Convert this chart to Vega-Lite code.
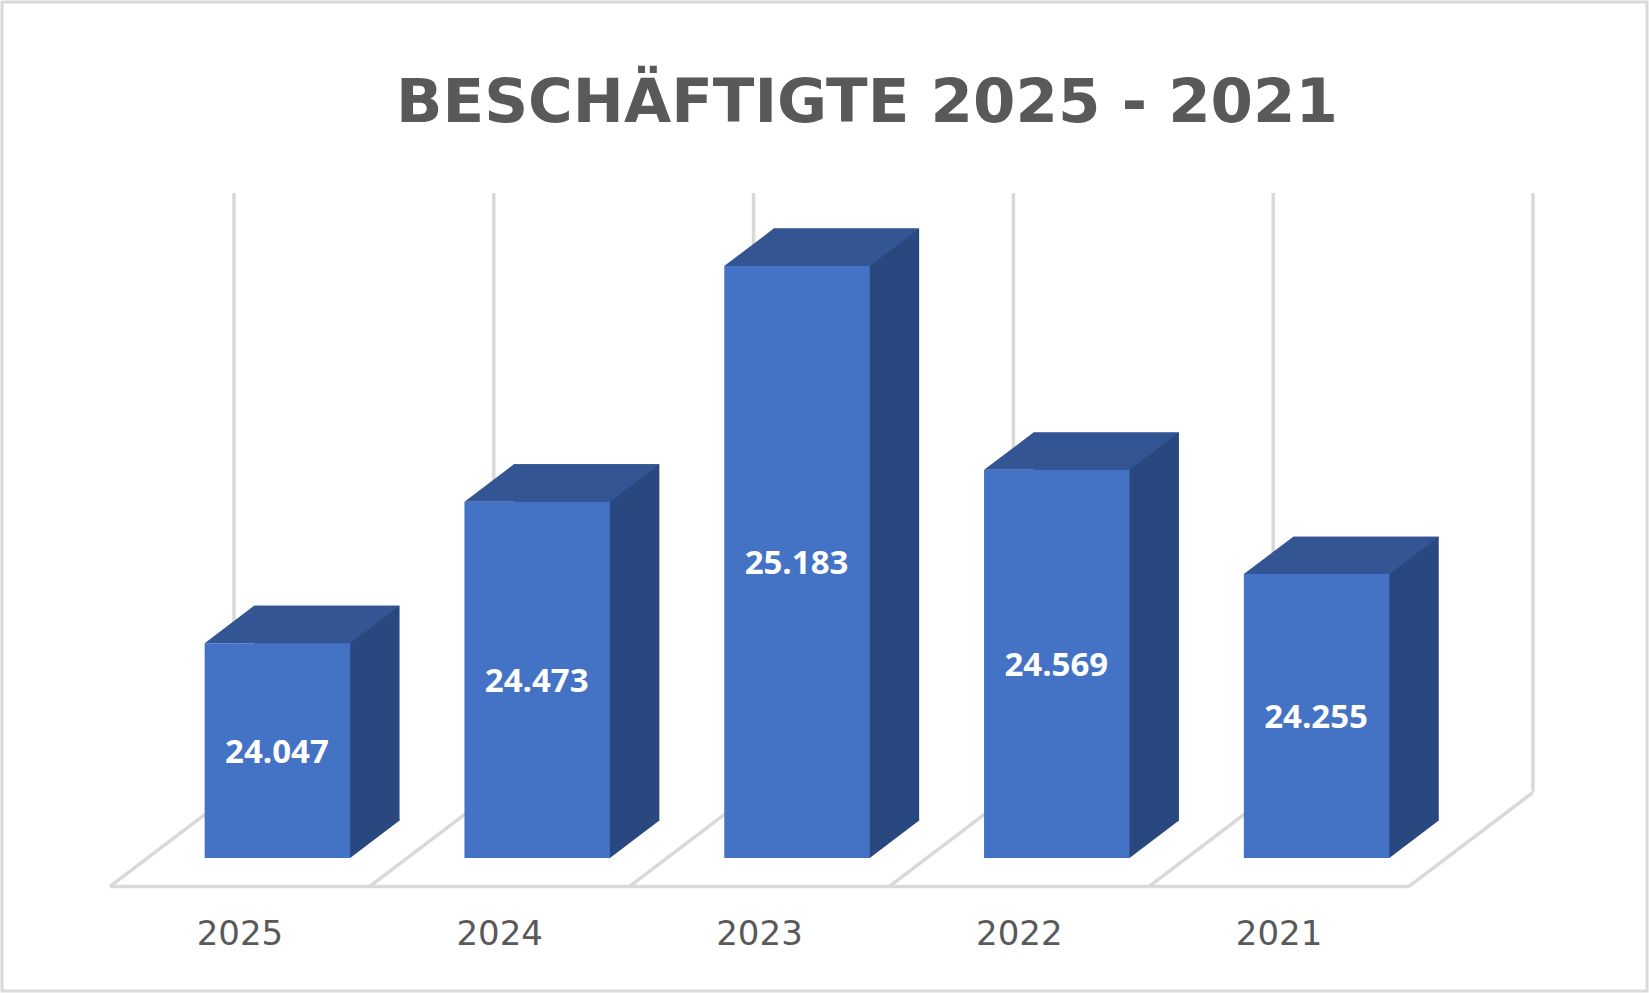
{
  "$schema": "https://vega.github.io/schema/vega-lite/v6.json",
  "description": "Beschaeftigte 2025 - 2021, 3D column look",
  "autosize": "none",
  "padding": 2,
  "width": 1645,
  "height": 989,
  "background": "white",
  "config": {"view": {"stroke": "#d9d9d9", "strokeWidth": 3}},
  "title": {
    "text": "BESCHÄFTIGTE 2025 - 2021",
    "font": "DejaVu Sans",
    "fontWeight": "bold",
    "fontSize": 61,
    "color": "#595959",
    "anchor": "start",
    "orient": "top",
    "offset": -133,
    "dx": 394
  },
  "data": {
    "values": [
      {"year": "2025", "value": 24.047},
      {"year": "2024", "value": 24.473},
      {"year": "2023", "value": 25.183},
      {"year": "2022", "value": 24.569},
      {"year": "2021", "value": 24.255}
    ]
  },
  "encoding": {
    "x": {
      "field": "year",
      "type": "nominal",
      "sort": null,
      "scale": {"type": "band", "range": [108, 1407], "paddingInner": 0, "paddingOuter": 0},
      "axis": {
        "title": null,
        "orient": "bottom",
        "offset": -74,
        "domain": false,
        "ticks": false,
        "grid": false,
        "labelAngle": 0,
        "labelFont": "DejaVu Sans",
        "labelFontSize": 34,
        "labelColor": "#595959",
        "labelPadding": 0
      }
    }
  },
  "layer": [
    {
      "mark": {"type": "rule", "color": "#d9d9d9", "strokeWidth": 3.5, "xOffset": 124},
      "encoding": {
        "x": {"field": "year", "type": "nominal", "sort": null, "bandPosition": 0},
        "y": {"datum": 23.6, "type": "quantitative", "scale": {"domain": [23.4, 25.183], "range": [856, 264]}, "axis": null},
        "y2": {"datum": 25.403}
      }
    },
    {
      "transform": [{"filter": "datum.year === '2021'"}],
      "mark": {"type": "rule", "color": "#d9d9d9", "strokeWidth": 3.5, "xOffset": 124},
      "encoding": {
        "x": {"field": "year", "type": "nominal", "sort": null, "bandPosition": 1},
        "y": {"datum": 23.6, "type": "quantitative", "scale": {"domain": [23.4, 25.183], "range": [856, 264]}, "axis": null},
        "y2": {"datum": 25.403}
      }
    },
    {
      "mark": {"type": "point", "shape": "M0,0L124,-94M0,0H260", "size": 4, "filled": false, "opacity": 1, "stroke": "#d9d9d9", "strokeWidth": 3.5},
      "encoding": {
        "x": {"field": "year", "type": "nominal", "sort": null, "bandPosition": 0},
        "y": {"datum": 23.3145, "type": "quantitative", "scale": {"domain": [23.4, 25.183], "range": [856, 264]}, "axis": null}
      }
    },
    {
      "transform": [{"filter": "datum.year === '2021'"}],
      "mark": {"type": "point", "shape": "M0,0L124,-94", "size": 4, "filled": false, "opacity": 1, "stroke": "#d9d9d9", "strokeWidth": 3.5},
      "encoding": {
        "x": {"field": "year", "type": "nominal", "sort": null, "bandPosition": 1},
        "y": {"datum": 23.3145, "type": "quantitative", "scale": {"domain": [23.4, 25.183], "range": [856, 264]}, "axis": null}
      }
    },
    {
      "mark": {"type": "bar", "color": "#2a4880", "width": 145.5, "xOffset": 86.9, "yOffset": -37.4, "y2Offset": -37.4},
      "encoding": {
        "y": {"field": "value", "type": "quantitative", "scale": {"domain": [23.4, 25.183], "range": [856, 264]}, "axis": null},
        "y2": {"datum": 23.4}
      }
    },
    {
      "mark": {"type": "point", "shape": "M72.75,0L122.15,-37.4V-38.4H71V0Z", "size": 4, "filled": true, "opacity": 1, "color": "#2a4880", "strokeWidth": 0, "xOffset": 37.5},
      "encoding": {
        "y": {"datum": 23.4, "type": "quantitative", "scale": {"domain": [23.4, 25.183], "range": [856, 264]}, "axis": null}
      }
    },
    {
      "mark": {"type": "point", "shape": "M-72.75,0L-23.35,-37.4H122.15L72.75,0Z", "size": 4, "filled": true, "opacity": 1, "color": "#335593", "strokeWidth": 0, "xOffset": 37.5},
      "encoding": {
        "y": {"field": "value", "type": "quantitative", "scale": {"domain": [23.4, 25.183], "range": [856, 264]}, "axis": null}
      }
    },
    {
      "mark": {"type": "bar", "color": "#4472c4", "width": 145.5, "xOffset": 37.5},
      "encoding": {
        "y": {"field": "value", "type": "quantitative", "scale": {"domain": [23.4, 25.183], "range": [856, 264]}, "axis": null},
        "y2": {"datum": 23.4}
      }
    },
    {
      "mark": {"type": "text", "font": "Open Sans", "fontWeight": "bold", "fontSize": 33, "color": "white", "xOffset": 37, "dy": 2},
      "encoding": {
        "y": {"field": "value", "type": "quantitative", "scale": {"domain": [23.4, 26.966], "range": [856, 264]}, "axis": null},
        "text": {"field": "value", "type": "quantitative", "format": ".3f"}
      }
    }
  ],
  "resolve": {"scale": {"y": "independent"}}
}
